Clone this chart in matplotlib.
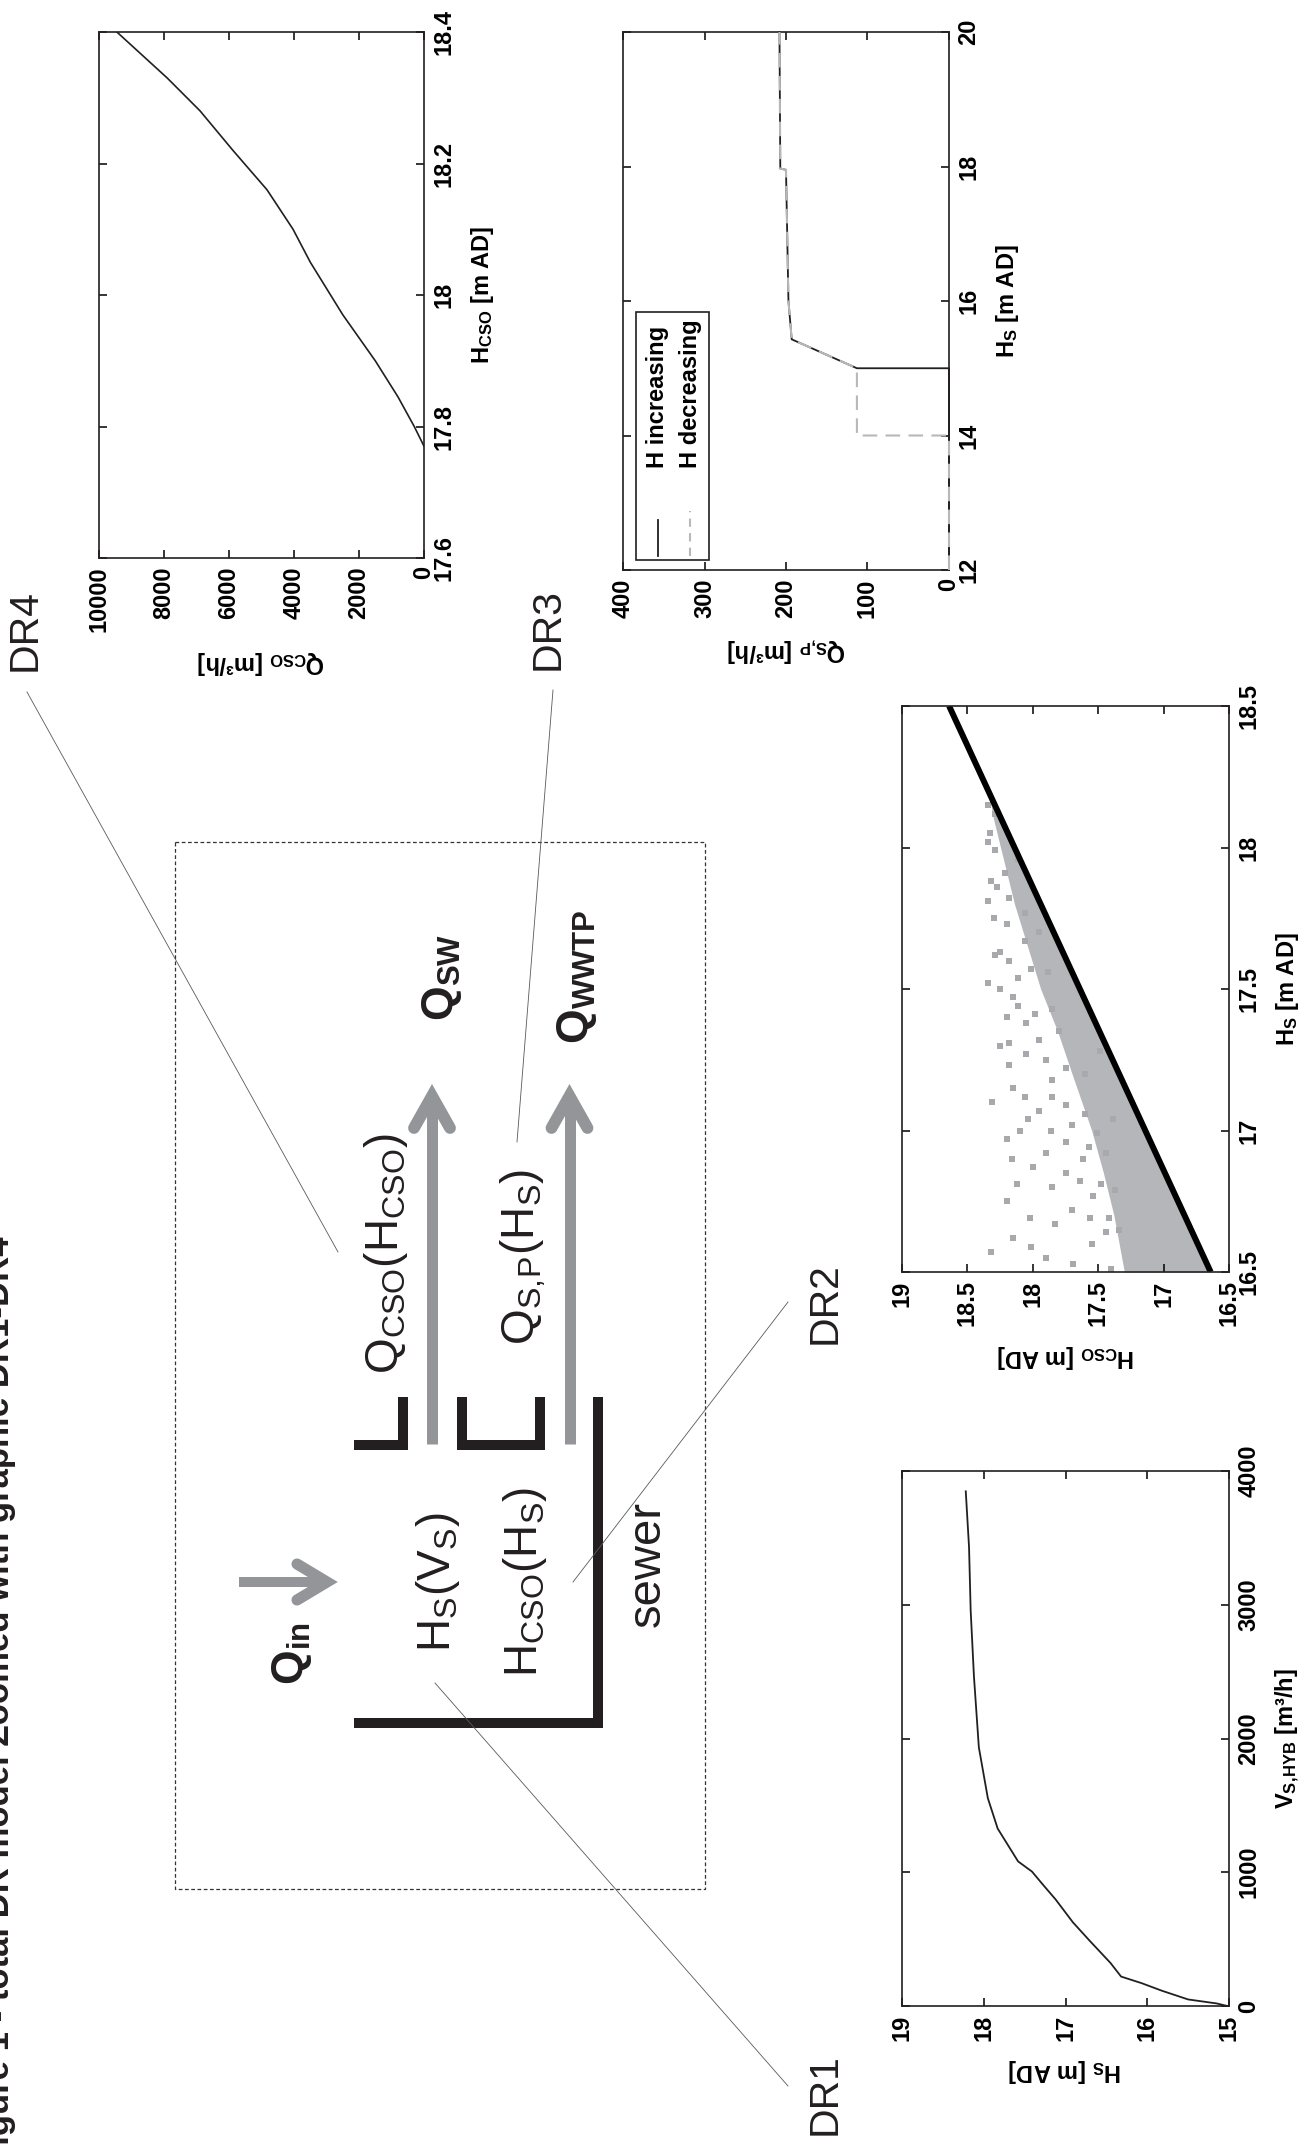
import matplotlib
matplotlib.use("Agg")
import matplotlib.pyplot as plt
import numpy as np
from matplotlib.patches import Rectangle

# ── data (original, unrotated axes) ──────────────────────────────────────────

# DR4: Q_CSO as a function of H_CSO
h_cso_dr4 = [17.77, 17.80, 17.845, 17.90, 17.97, 18.05, 18.10, 18.16, 18.22, 18.28, 18.33, 18.40]
q_cso_dr4 = [0, 300, 800, 1500, 2500, 3500, 4030, 4830, 5880, 6890, 7900, 9450]

# DR3: Q_S,P as a function of H_S (hysteresis)
h_inc = [12, 15, 15, 15.43, 16.0, 17.95, 17.97, 20]
q_inc = [0, 0, 113, 193, 197, 200, 207, 208]
h_dec = [12, 14, 14, 15, 15.43, 16.0, 17.95, 17.97, 20]
q_dec = [0, 0, 113, 113, 193, 197, 200, 207, 208]

# DR2: H_CSO against H_S
hs_line = [16.5, 18.5]
hcso_line = [16.64, 18.64]
hs_band = [16.5, 16.7, 16.85, 17.0, 17.2, 17.35, 17.5, 17.65, 17.8, 17.95, 18.1, 18.2]
hcso_band_top = [17.3, 17.38, 17.46, 17.55, 17.7, 17.81, 17.94, 18.04, 18.14, 18.22, 18.3, 18.34]
hs_pts = [16.57, 16.59, 16.53, 16.51, 16.69, 16.67, 16.69, 16.69, 16.65, 16.64,
          16.81, 16.80, 16.82, 16.81, 16.79, 16.77, 16.90, 16.92, 16.96, 16.94,
          16.92, 16.90, 17.00, 17.02, 16.99, 17.04, 17.04, 17.10, 17.12, 17.12,
          17.09, 17.06, 17.23, 17.25, 17.22, 17.20, 17.28, 17.31, 17.32, 17.35,
          17.44, 17.41, 17.43, 17.52, 17.54, 17.57, 17.56, 17.62, 17.67, 17.70,
          17.81, 17.82, 17.77, 17.91, 17.96, 18.02, 17.99, 18.15, 18.12,
          16.55, 16.60, 16.62, 16.72, 16.75, 16.85, 16.87, 16.97, 17.00, 17.07,
          17.15, 17.18, 17.27, 17.30, 17.38, 17.40, 17.47, 17.50, 17.60, 17.63,
          17.73, 17.75, 17.86, 17.88, 18.05]
hcso_pts = [18.32, 18.01, 17.69, 17.40, 18.02, 17.83, 17.56, 17.42, 17.34, 17.44,
            18.12, 17.85, 17.64, 17.48, 17.37, 17.54, 18.16, 17.90, 17.75, 17.57,
            17.44, 17.62, 17.86, 17.70, 17.51, 17.39, 18.04, 18.31, 18.06, 17.85,
            17.75, 17.60, 18.18, 17.90, 17.75, 17.60, 17.49, 18.18, 17.95, 17.80,
            18.11, 17.98, 17.85, 18.34, 18.11, 18.01, 17.88, 18.29, 18.06, 17.95,
            18.34, 18.18, 18.06, 18.21, 18.11, 18.34, 18.29, 18.34, 18.29,
            17.90, 17.55, 18.15, 17.70, 18.20, 17.75, 18.00, 18.20, 18.10, 17.95,
            18.15, 17.85, 18.05, 18.25, 18.05, 18.20, 18.15, 18.25, 18.18, 18.25,
            18.20, 18.30, 18.27, 18.32, 18.33]

# DR1: H_S as a function of V_S,HYB
v_hyb = [0, 19, 49, 114, 171, 220, 322, 485, 626, 796, 910, 1005, 1081,
         1327, 1554, 1934, 2465, 2958, 3431, 3848]
h_s_dr1 = [15.02, 15.15, 15.50, 15.82, 16.07, 16.32, 16.45, 16.70, 16.91, 17.12,
           17.28, 17.41, 17.58, 17.83, 17.95, 18.06, 18.12, 18.16, 18.18, 18.22]

TITLE = "Figure 1 - total DR model Zoomed with graphic DR1-DR4"

# ── figure (page is the landscape figure turned 90° counter-clockwise) ───────

W, H = 1310, 2146
BLACK = "#231f20"
GRAY = "#939598"

plt.rcParams["font.family"] = ["Liberation Sans", "DejaVu Sans"]
plt.rcParams["mathtext.fontset"] = "custom"
plt.rcParams["mathtext.rm"] = "Liberation Sans"
plt.rcParams["mathtext.bf"] = "Liberation Sans:bold"
plt.rcParams["mathtext.sf"] = "Liberation Sans:bold"

fig = plt.figure(figsize=(W / 100, H / 100), dpi=100)

diag = fig.add_axes([0, 0, 1, 1], zorder=0)
diag.set_xlim(0, W)
diag.set_ylim(H, 0)
diag.set_axis_off()


def px_axes(x0, y0, x1, y1):
    return fig.add_axes([x0 / W, 1 - y1 / H, (x1 - x0) / W, (y1 - y0) / H], zorder=2)


def panel(box, xlim, ylim, xticks, yticks, xlabel, ylabel):
    ax = px_axes(*box)
    ax.set_xlim(*xlim)
    ax.set_ylim(*ylim)
    ax.set_xticks(xticks)
    ax.set_xticklabels([f"{t:g}" for t in xticks])
    ax.set_yticks(yticks)
    ax.set_yticklabels([f"{t:g}" for t in yticks])
    ax.tick_params(direction="in", length=6, width=1.1, top=True, right=True,
                   labelleft=False, labelright=True, labelsize=17, pad=6)
    ax.tick_params(axis="x", labelrotation=90)
    ax.tick_params(axis="y", labelrotation=90)
    for t in ax.get_xticklabels() + ax.get_yticklabels():
        t.set_fontweight("bold")
    for t in ax.get_yticklabels():
        t.set_va("center")
    ax.set_xlabel(xlabel, rotation=180, fontsize=17, fontweight="bold", labelpad=12)
    ax.yaxis.set_label_position("right")
    ax.set_ylabel(ylabel, rotation=90, fontsize=17, fontweight="bold", labelpad=10)
    for s in ax.spines.values():
        s.set_linewidth(1.2)
        s.set_color(BLACK)
    return ax


# DR4
ax4 = panel((99, 32, 424, 558), (10000, 0), (17.6, 18.4),
            [0, 2000, 4000, 6000, 8000, 10000], [17.6, 17.8, 18.0, 18.2, 18.4],
            r"$\mathsf{Q_{CSO}}$ [m³/h]", r"$\mathsf{H_{CSO}}$ [m AD]")
ax4.plot(q_cso_dr4, h_cso_dr4, color=BLACK, lw=1.2)

# DR3
ax3 = panel((623, 32, 949, 570), (400, 0), (12, 20),
            [0, 100, 200, 300, 400], [12, 14, 16, 18, 20],
            r"$\mathsf{Q_{S,\!P}}$ [m³/h]", r"$\mathsf{H_{S}}$ [m AD]")
ax3.plot(q_inc, h_inc, color=BLACK, lw=1.3, clip_on=False, zorder=3)
ax3.plot(q_dec, h_dec, color="#b8b8b8", lw=1.5, ls=(0, (7, 4)), clip_on=False, zorder=4)
# legend, drawn by hand so it turns with the page
ax3.add_patch(Rectangle((0.04, 0.019), 0.224, 0.461, transform=ax3.transAxes,
                        facecolor="white", edgecolor=BLACK, lw=1.2, zorder=5))
ax3.plot([0.107, 0.107], [0.026, 0.093], transform=ax3.transAxes,
         color=BLACK, lw=1.3, zorder=6)
ax3.plot([0.206, 0.206], [0.026, 0.11], transform=ax3.transAxes,
         color="#b8b8b8", lw=1.5, ls=(0, (4, 3)), zorder=6)
ax3.text(0.107, 0.19, "H increasing", transform=ax3.transAxes, rotation=90,
         ha="center", va="bottom", fontsize=17, fontweight="bold", zorder=6)
ax3.text(0.206, 0.19, "H decreasing", transform=ax3.transAxes, rotation=90,
         ha="center", va="bottom", fontsize=17, fontweight="bold", zorder=6)

# DR2
ax2 = panel((902, 706, 1229, 1272), (19, 16.5), (16.5, 18.5),
            [16.5, 17, 17.5, 18, 18.5, 19], [16.5, 17, 17.5, 18, 18.5],
            r"$\mathsf{H_{CSO}}$ [m AD]", r"$\mathsf{H_{S}}$ [m AD]")
band_low = np.interp(hs_band, hs_line, hcso_line)
ax2.fill_betweenx(hs_band, band_low, hcso_band_top, color="#b4b6b9", lw=0)
ax2.scatter(hcso_pts, hs_pts, marker="s", s=14, color="#a7a9ac", linewidths=0)
ax2.plot(hcso_line, hs_line, color="black", lw=4.3, solid_capstyle="butt")

# DR1
ax1 = panel((902, 1471, 1229, 2006), (19, 15), (0, 4000),
            [15, 16, 17, 18, 19], [0, 1000, 2000, 3000, 4000],
            r"$\mathsf{H_{S}}$ [m AD]", r"$\mathsf{V_{S,\!HYB}}$ [m³/h]")
ax1.plot(h_s_dr1, v_hyb, color=BLACK, lw=1.3)

# ── schematic in the middle ──────────────────────────────────────────────────

diag.add_patch(Rectangle((175, 842), 530, 1047, fill=False, ec="#333333",
                         lw=0.9, ls=(0, (3, 2))))

for (x0, y0, w, h) in [(354, 1440, 54, 10), (398, 1397, 10, 53),
                       (457, 1397, 10, 53), (457, 1440, 88, 10), (535, 1397, 10, 53),
                       (593, 1397, 10, 331), (354, 1718, 249, 10)]:
    diag.add_patch(Rectangle((x0, y0), w, h, color=BLACK, lw=0))

for xc in (432, 569.5):
    diag.plot([xc, xc], [1444, 1098], color=GRAY, lw=7.9, solid_capstyle="butt")
    diag.plot([xc - 18, xc, xc + 18], [1128, 1096, 1128], color=GRAY, lw=8.5,
              solid_capstyle="round", solid_joinstyle="miter")
diag.plot([239, 326], [1582, 1582], color=GRAY, lw=7.2, solid_capstyle="butt")
diag.plot([297, 327, 297], [1564, 1582, 1600], color=GRAY, lw=8.0,
          solid_capstyle="round", solid_joinstyle="miter")

txt = dict(rotation=90, ha="center", va="center", color=BLACK)
diag.text(292, 1654, r"$\mathbf{Q_{in}}$", fontsize=32, **txt)
diag.text(442, 977, r"$\mathbf{Q_{SW}}$", fontsize=32, **txt)
diag.text(577, 977, r"$\mathbf{Q_{WWTP}}$", fontsize=32, **txt)
diag.text(386, 1253, r"$\mathrm{Q_{CSO}(H_{CSO})}$", fontsize=33, **txt)
diag.text(523, 1257, r"$\mathrm{Q_{S,\!P}(H_S)}$", fontsize=33, **txt)
diag.text(438, 1582, r"$\mathrm{H_S(V_S)}$", fontsize=33, **txt)
diag.text(525, 1582, r"$\mathrm{H_{CSO}(H_S)}$", fontsize=33, **txt)
diag.text(648, 1564, "sewer", fontsize=34, **txt)

for label, (x, y) in {"DR4": (25, 630), "DR3": (548, 629),
                      "DR2": (825, 1303), "DR1": (825, 2094)}.items():
    diag.text(x, y, label, fontsize=29.5, **txt)

for xs, ys in [([27, 338], [692, 1252]), ([553, 517], [690, 1142]),
               ([788, 573], [1302, 1582]), ([435, 788], [1683, 2086])]:
    diag.plot(xs, ys, color="#58595b", lw=0.6)

# caption runs off the left edge of the page, as in the scan
diag.text(9, 2166, TITLE, rotation=90, rotation_mode="anchor", ha="left",
          va="baseline", fontsize=25, fontweight="bold", color=BLACK)

fig.savefig("out.png", dpi=100, facecolor="white")
